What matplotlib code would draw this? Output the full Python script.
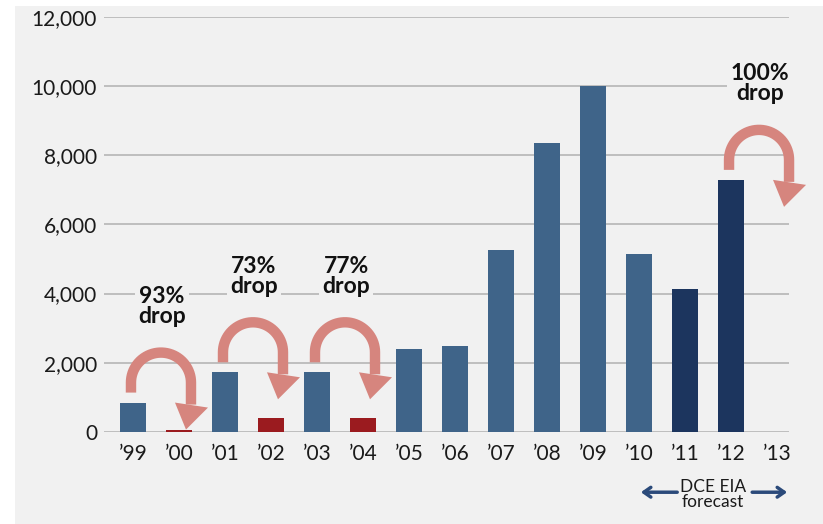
import numpy as np
import matplotlib
matplotlib.use("Agg")
import matplotlib.pyplot as plt
from matplotlib.patches import Rectangle, Polygon
from matplotlib.ticker import FuncFormatter
import matplotlib.transforms as mtransforms

# data
years = ["\u201999", "\u201900", "\u201901", "\u201902", "\u201903", "\u201904", "\u201905",
         "\u201906", "\u201907", "\u201908", "\u201909", "\u201910", "\u201911", "\u201912", "\u201913"]
values = [850, 70, 1725, 405, 1725, 405, 2390, 2485, 5260, 8360, 10000, 5145, 4140, 7285, 0]
drop_years = ["\u201900", "\u201902", "\u201904"]
forecast_years = ["\u201911", "\u201912", "\u201913"]
drop_from = ["\u201999", "\u201901", "\u201903", "\u201912"]
drop_labels = ["93%\ndrop", "73%\ndrop", "77%\ndrop", "100%\ndrop"]
yticks = [0, 2000, 4000, 6000, 8000, 10000, 12000]

BG = "#f1f1f1"
BLUE = "#3f6489"
NAVY = "#1c355e"
RED = "#9b1b1f"
PINK = "#d6857e"

plt.rcParams["font.family"] = ["Lato", "DejaVu Sans"]

W, H = 823, 524
fig = plt.figure(figsize=(W / 100, H / 100), dpi=100)
fig.patch.set_facecolor("white")
fig.add_artist(Rectangle((15 / W, 0), 1, 518 / H, transform=fig.transFigure,
                         facecolor=BG, edgecolor="none", zorder=-1))

ax = fig.add_axes([104 / W, 92 / H, 685 / W, 415.3 / H])
ax.patch.set_visible(False)

x = np.arange(len(years))
colors = []
for y in years:
    if y in drop_years:
        colors.append(RED)
    elif y in forecast_years:
        colors.append(NAVY)
    else:
        colors.append(BLUE)
ax.bar(x, values, width=0.58, color=colors, zorder=3)

ax.set_xlim(-0.63, 14.26)
ax.set_ylim(0, 12000)
ax.set_xticks(x)
ax.set_xticklabels(years)
ax.set_yticks(yticks)
ax.yaxis.set_major_formatter(FuncFormatter(lambda v, p: "{:,}".format(int(v))))
ax.tick_params(axis="both", length=0, labelsize=15, colors="#1a1a1a")
ax.tick_params(axis="y", pad=5)
ax.tick_params(axis="x", pad=9)
ax.yaxis.grid(True, color="#b5b5b5", lw=1.2)
ax.set_axisbelow(True)
for s in ax.spines.values():
    s.set_visible(False)


def curl(x0, y0):
    # curved "drop" arrow, shape in pixels, anchored on top of a bar
    tr = fig.dpi_scale_trans + mtransforms.ScaledTranslation(x0, y0, ax.transData)
    t = np.linspace(np.pi, 0, 40)
    px = np.concatenate([[-2, -2], 28 + 30 * np.cos(t), [58, 58]])
    py = np.concatenate([[10, 20], 20 + 30 * np.sin(t), [20, -2]])
    ax.plot(px / 100, py / 100, color=PINK, lw=7.5, solid_capstyle="butt",
            transform=tr, clip_on=False, zorder=5)
    head = np.array([[42, 0], [75, -5], [53, -27]]) / 100
    ax.add_patch(Polygon(head, closed=True, facecolor=PINK, edgecolor="none",
                         transform=tr, clip_on=False, zorder=5))


for yr, lab in zip(drop_from, drop_labels):
    i = years.index(yr)
    v = values[i]
    curl(i, v)
    ax.annotate(lab, xy=(i + 0.5, v), xytext=(6, 96), textcoords="offset pixels",
                ha="center", va="center", fontsize=16.5, fontweight="bold",
                color="#111111", linespacing=0.95, zorder=4,
                bbox=dict(boxstyle="square,pad=0.15", fc=BG, ec="none"))

# forecast marker under the axis
f0 = years.index(forecast_years[0])
f1 = years.index(forecast_years[-1])
yb = -0.145
arr = dict(arrowstyle="->,head_length=0.5,head_width=0.35", lw=2.5, color="#2b4a7a",
           shrinkA=0, shrinkB=0)
ax.annotate("", xy=(f0 - 0.96, yb), xytext=(f0 - 0.17, yb),
            xycoords=("data", "axes fraction"), textcoords=("data", "axes fraction"),
            arrowprops=arr, annotation_clip=False)
ax.annotate("", xy=(f1 + 0.22, yb), xytext=(f1 - 0.54, yb),
            xycoords=("data", "axes fraction"), textcoords=("data", "axes fraction"),
            arrowprops=arr, annotation_clip=False)
ax.text(f0 + 0.6, yb - 0.005, "DCE EIA\nforecast", transform=ax.get_xaxis_transform(),
        ha="center", va="center", fontsize=12.5, color="#1a1a1a", linespacing=0.95)

fig.savefig("out.png", dpi=100, facecolor=fig.get_facecolor())
